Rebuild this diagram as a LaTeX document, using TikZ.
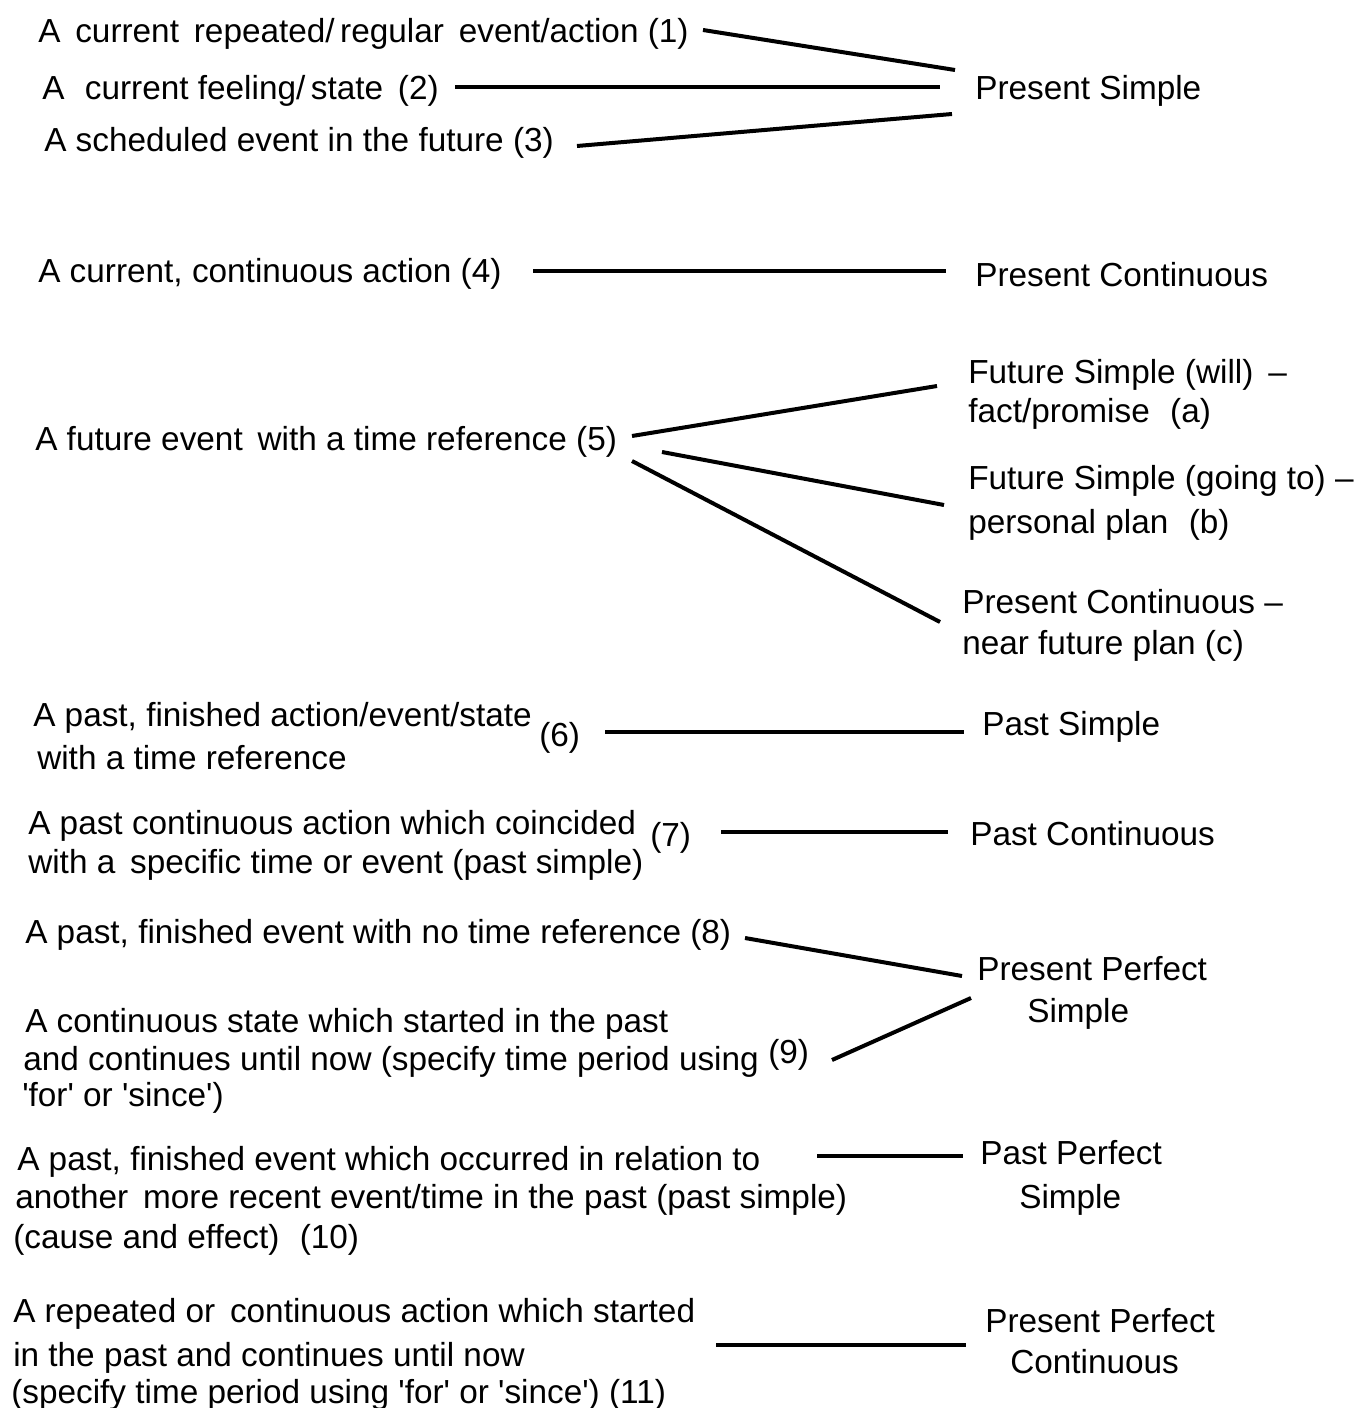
\documentclass[tikz,border=0pt]{standalone}
\usepackage{fontspec}
\setmainfont{Liberation Sans}
\newcommand{\sq}{\textquotesingle}
\begin{document}
\begin{tikzpicture}[x=0.75pt,y=-0.75pt,
  txt/.style={anchor=base west,inner sep=0pt,font=\fontsize{25}{29}\selectfont},
  conn/.style={line width=3pt}]
\useasboundingbox[fill=white] (0,0) rectangle (1361,1408);
% group 1
\node[txt] (t1) at (38,43) {A\, current\, repeated/\,regular\, event/action (1)};
\node[txt] (t2) at (42,100) {A\,\, current feeling/\,state\, (2)};
\node[txt] (t3) at (44,152) {A scheduled event in the future (3)};
\node[txt] (ps) at (975,100) {Present Simple};
\coordinate (c1a) at (703,30); \coordinate (c1b) at (955,70);
\coordinate (c2a) at (455,87); \coordinate (c2b) at (940,87);
\coordinate (c3a) at (577,146); \coordinate (c3b) at (952,114);
\draw[conn] (c1a) -- (c1b);
\draw[conn] (c2a) -- (c2b);
\draw[conn] (c3a) -- (c3b);
% group 2
\node[txt] (t4) at (38,283) {A current, continuous action (4)};
\node[txt] (pc) at (975,287) {Present Continuous};
\coordinate (c4a) at (533,271); \coordinate (c4b) at (946,271);
\draw[conn] (c4a) -- (c4b);
% group 3
\node[txt] (t5) at (35,450) {A future event\, with a time reference (5)};
\node[txt] (fa1) at (968,383) {Future Simple (will)\, --};
\node[txt] (fa2) at (968,422) {fact/promise\,\, (a)};
\node[txt] (fb1) at (968,489) {Future Simple (going to) --};
\node[txt] (fb2) at (968,533) {personal plan\,\, (b)};
\node[txt] (fc1) at (962,613) {Present Continuous --};
\node[txt] (fc2) at (962,654) {near future plan (c)};
\coordinate (c5a) at (632,436); \coordinate (c5b) at (937,386);
\coordinate (c6a) at (662,452); \coordinate (c6b) at (944,505);
\coordinate (c7a) at (632,461); \coordinate (c7b) at (940,622);
\draw[conn] (c5a) -- (c5b);
\draw[conn] (c6a) -- (c6b);
\draw[conn] (c7a) -- (c7b);
% group 4
\node[txt] (t6a) at (33,726) {A past, finished action/event/state};
\node[txt] (t6b) at (37,769) {with a time reference};
\node[txt] (t6c) at (539,746) {(6)};
\node[txt] (pas) at (982,735) {Past Simple};
\coordinate (c8a) at (605,732); \coordinate (c8b) at (964,732);
\draw[conn] (c8a) -- (c8b);
% group 5
\node[txt] (t7a) at (28,834) {A past continuous action which coincided};
\node[txt] (t7b) at (28,873) {with a\, specific time or event (past simple)};
\node[txt] (t7c) at (650,846) {(7)};
\node[txt] (pac) at (970,845) {Past Continuous};
\coordinate (c9a) at (721,832); \coordinate (c9b) at (948,832);
\draw[conn] (c9a) -- (c9b);
% group 6
\node[txt] (t8) at (25,943) {A past, finished event with no time reference (8)};
\node[txt] (pp1) at (977,980) {Present Perfect};
\node[txt] (pp2) at (1027,1022) {Simple};
\node[txt] (t9a) at (25,1032) {A continuous state which started in the past};
\node[txt] (t9b) at (23,1070) {and continues until now (specify time period using};
\node[txt] (t9c) at (768,1063) {(9)};
\node[txt] (t9d) at (22,1106) {\sq for\sq{} or \sq since\sq)};
\coordinate (c10a) at (745,938); \coordinate (c10b) at (962,976);
\coordinate (c11a) at (832,1060); \coordinate (c11b) at (971,998);
\draw[conn] (c10a) -- (c10b);
\draw[conn] (c11a) -- (c11b);
% group 7
\node[txt] (t10a) at (17,1170) {A past, finished event which occurred in relation to};
\node[txt] (t10b) at (15,1208) {another\, more recent event/time in the past (past simple)};
\node[txt] (t10c) at (13,1248) {(cause and effect)\,\, (10)};
\node[txt] (pf1) at (980,1164) {Past Perfect};
\node[txt] (pf2) at (1019,1208) {Simple};
\coordinate (c12a) at (817,1156); \coordinate (c12b) at (963,1156);
\draw[conn] (c12a) -- (c12b);
% group 8
\node[txt] (t11a) at (13,1322) {A repeated or\, continuous action which started};
\node[txt] (t11b) at (13,1366) {in the past and continues until now};
\node[txt] (t11c) at (11,1403) {(specify time period using \sq for\sq{} or \sq since\sq) (11)};
\node[txt] (ppc1) at (985,1332) {Present Perfect};
\node[txt] (ppc2) at (1010,1373) {Continuous};
\coordinate (c13a) at (716,1345); \coordinate (c13b) at (966,1345);
\draw[conn] (c13a) -- (c13b);
\end{tikzpicture}
\end{document}
